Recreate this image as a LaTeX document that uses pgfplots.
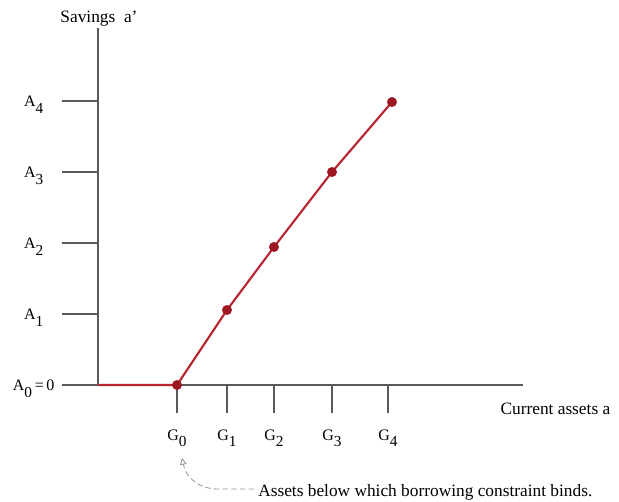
\documentclass[border=0pt]{standalone}
\usepackage{pgfplots}
\pgfplotsset{compat=1.18}
\usepackage{fontspec}
\setmainfont{Liberation Serif}
\usetikzlibrary{arrows.meta}
\definecolor{axgray}{RGB}{90,90,90}
\definecolor{polred}{RGB}{185,38,50}
\definecolor{dotred}{RGB}{158,22,34}
\newcommand\sub[1]{\raisebox{-5pt}{\fontsize{11.5}{11.5}\selectfont #1}}
\begin{document}
\begin{tikzpicture}
\begin{axis}[
  x=0.75pt, y=0.75pt,
  xmin=98, xmax=523, ymin=0, ymax=357,
  axis lines=left,
  axis line style={-, draw=axgray, line width=0.8pt},
  clip=false,
  tick align=outside,
  xtick={177,227,274,332,388},
  xticklabels={G\sub{0},G\sub{1},G\sub{2},G\sub{3},G\sub{4}},
  ytick={0,71,142,213,284},
  yticklabels={A\sub{0}\,=\,0,A\sub{1},A\sub{2},A\sub{3},A\sub{4}},
  xtick style={draw=axgray, line width=0.8pt, /pgfplots/major tick length=21pt},
  ytick style={draw=axgray, line width=0.8pt, /pgfplots/major tick length=27pt},
  xticklabel style={font=\fontsize{12}{14}\selectfont, inner sep=0pt, yshift=-29pt},
  yticklabel style={font=\fontsize{12}{14}\selectfont, inner sep=0pt, text width=43.5pt, align=center, anchor=base east, yshift=-4pt, xshift=-22pt},
  minor tick num=0,
]
\addplot[polred, line width=1.6pt] coordinates {(98,0) (177,0) (227,75) (274,138) (332,213) (392,283)};
\addplot[only marks, mark=*, mark size=3.5pt, mark options={fill=dotred, draw=dotred}] coordinates {(177,0) (227,75) (274,138) (332,213) (392,283)};
\node[font=\fontsize{13}{15}\selectfont, anchor=base] at (axis cs:99,363) {Savings~ a’};
\node[font=\fontsize{13}{15}\selectfont, anchor=base east] at (axis cs:615,-29) {Current assets a};
\node[font=\fontsize{13}{15}\selectfont, anchor=base west, inner sep=0pt] at (axis cs:258,-111) {Assets below which borrowing constraint binds.};
\draw[gray!85, dashed, dash pattern=on 4pt off 2.5pt, line width=0.6pt, -{Triangle[open, length=5pt, width=5pt]}] (axis cs:254,-104) -- (axis cs:218,-104) .. controls (axis cs:198,-104) and (axis cs:186,-92) .. (axis cs:182,-73);
\path (axis cs:0,385) rectangle (axis cs:619,-116);
\end{axis}
\end{tikzpicture}
\end{document}
